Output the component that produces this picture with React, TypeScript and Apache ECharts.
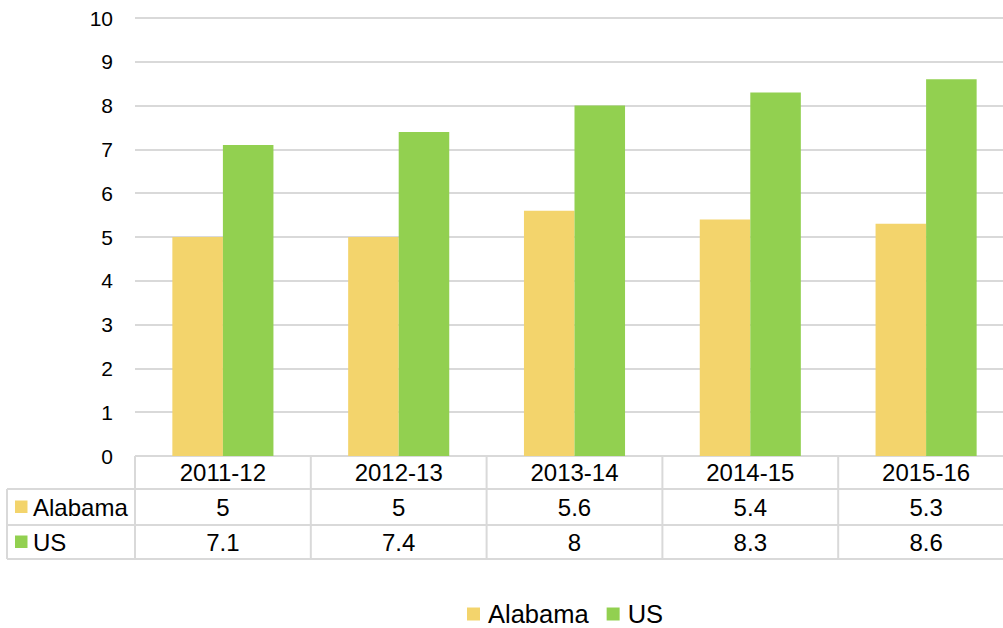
import React, { useEffect, useRef } from "react";
import * as echarts from "echarts";

const categories = ["2011-12", "2012-13", "2013-14", "2014-15", "2015-16"];
const alabama = [5, 5, 5.6, 5.4, 5.3];
const us = [7.1, 7.4, 8, 8.3, 8.6];
const seriesNames = ["Alabama", "US"];
const colors = ["#F3D46C", "#92D050"];

const FONT = "'Liberation Sans', Arial, sans-serif";
const W = 1014;
const H = 628;

export default function App() {
  const ref = useRef<HTMLDivElement>(null);
  useEffect(() => {
    if (!ref.current) return;
    const chart = echarts.init(ref.current, null, { renderer: "svg" });
    const gridLeft = 135;
    const gridRight = 1014;
    const axisY = 456;
    const rowLines = [489, 525, 559];
    const tableLeft = 7;
    const cw = (gridRight - gridLeft) / categories.length;
    const lineColor = "#D9D9D9";
    const graphics: any[] = [];
    const hLine = (x1: number, x2: number, y: number) =>
      graphics.push({ type: "line", shape: { x1, y1: y, x2, y2: y }, style: { stroke: lineColor, lineWidth: 2 }, silent: true });
    const vLine = (x: number, y1: number, y2: number) =>
      graphics.push({ type: "line", shape: { x1: x, y1, x2: x, y2 }, style: { stroke: lineColor, lineWidth: 2 }, silent: true });
    hLine(gridLeft, gridRight, axisY);
    rowLines.forEach((y) => hLine(tableLeft, gridRight, y));
    vLine(tableLeft, rowLines[0], rowLines[2]);
    for (let i = 0; i <= categories.length; i++) vLine(gridLeft + i * cw, axisY, rowLines[2]);
    const txt = (text: string, x: number, y: number, align: string) =>
      graphics.push({
        type: "text",
        x,
        y,
        style: { text, fill: "#000", font: `24px ${FONT}`, textAlign: align, textVerticalAlign: "middle" },
        silent: true,
      });
    const headerY = (axisY + rowLines[0]) / 2;
    categories.forEach((c, i) => txt(c, gridLeft + (i + 0.5) * cw, headerY, "center"));
    const rows = [alabama, us];
    rows.forEach((vals, r) => {
      const y = (rowLines[r] + rowLines[r + 1]) / 2;
      graphics.push({
        type: "rect",
        shape: { x: 15, y: y - 6.5, width: 12.5, height: 12.5 },
        style: { fill: colors[r] },
        silent: true,
      });
      txt(seriesNames[r], 33, y, "left");
      vals.forEach((v, i) => txt(String(v), gridLeft + (i + 0.5) * cw, y, "center"));
    });

    chart.setOption({
      animation: false,
      textStyle: { fontFamily: FONT },
      grid: { left: gridLeft, right: W - gridRight, top: 18, bottom: H - axisY, containLabel: false },
      legend: {
        data: seriesNames,
        left: 467,
        top: 601,
        padding: 0,
        icon: "rect",
        itemWidth: 13,
        itemHeight: 13,
        itemGap: 18,
        textStyle: { fontSize: 25.5, lineHeight: 26, color: "#000", fontFamily: FONT, padding: [0, 0, 0, 3] },
      },
      xAxis: {
        type: "category",
        data: categories,
        axisLine: { show: false },
        axisTick: { show: false },
        axisLabel: { show: false },
      },
      yAxis: {
        type: "value",
        min: 0,
        max: 10,
        interval: 1,
        axisLine: { show: false },
        axisTick: { show: false },
        axisLabel: { fontSize: 21, color: "#000", margin: 22, fontFamily: FONT },
        splitLine: { lineStyle: { color: lineColor, width: 2 } },
      },
      series: [
        {
          name: seriesNames[0],
          type: "bar",
          data: alabama,
          itemStyle: { color: colors[0] },
          barGap: "0%",
          barCategoryGap: "42.5%",
        },
        {
          name: seriesNames[1],
          type: "bar",
          data: us,
          itemStyle: { color: colors[1] },
          barGap: "0%",
          barCategoryGap: "42.5%",
        },
      ],
      graphic: graphics,
    });
    return () => chart.dispose();
  }, []);
  return (
    <div style={{ position: "fixed", left: 0, top: 0, width: 1003, height: 628, overflow: "hidden", background: "#fff" }}>
      <div ref={ref} style={{ width: W, height: H }} />
    </div>
  );
}
